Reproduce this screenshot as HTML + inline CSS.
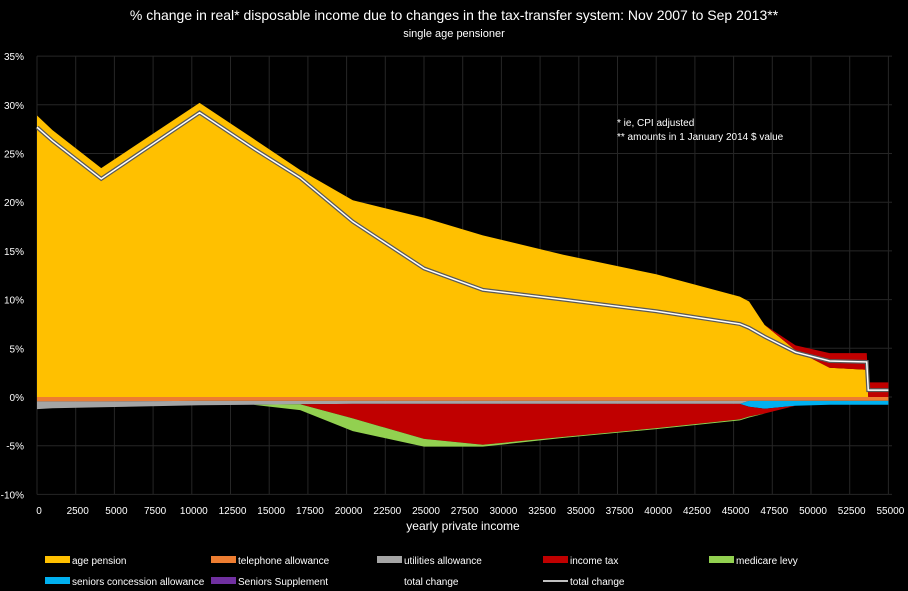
<!DOCTYPE html>
<html><head><meta charset="utf-8"><style>
body{margin:0;background:#000;width:908px;height:591px;overflow:hidden;font-family:"Liberation Sans",sans-serif;color:#fff}
</style></head><body>
<svg id="chart" width="908" height="591" style="position:absolute;left:0;top:0">
<text x="454" y="20" text-anchor="middle" font-size="14" fill="#fff">% change in real* disposable income due to changes in the tax-transfer system: Nov 2007 to Sep 2013**</text>
<text x="454" y="37" text-anchor="middle" font-size="11" fill="#fff">single age pensioner</text>
<g id="grid"></g><g id="areas"></g><g id="lines"></g><g id="axes"></g>
<text x="617" y="126" font-size="10" fill="#fff">* ie, CPI adjusted</text>
<text x="617" y="140" font-size="10" fill="#fff">** amounts in 1 January 2014 $ value</text>
<text x="463" y="530" text-anchor="middle" font-size="12" fill="#fff">yearly private income</text>
<g id="legend"></g>
</svg>
<script>
const incomes=[0,1000,4150,10500,14000,17000,20400,25000,28800,34000,40000,45400,46000,47000,49000,51200,53600,53700,55000];
const agePension=[28.9,27.4,23.5,30.2,26.5,23.3,20.2,18.4,16.6,14.6,12.6,10.3,9.8,7.4,4.8,3.0,2.8,0,0];
const incomeTaxPos=[0,0,0,0,0,0,0,0,0,0,0,0,0,0,0.5,1.5,1.7,1.5,1.5];
const telephone=[-0.45,-0.45,-0.45,-0.4,-0.4,-0.4,-0.4,-0.4,-0.4,-0.4,-0.4,-0.4,-0.4,-0.4,-0.4,-0.4,-0.4,-0.4,-0.4];
const utilities=[-0.8,-0.7,-0.6,-0.45,-0.4,-0.35,-0.3,-0.3,-0.3,-0.3,-0.3,-0.3,0,0,0,0,0,0,0];
const medicare=[0,0,0,0,0,-0.6,-1.3,-0.8,-0.2,-0.1,-0.1,-0.1,-0.1,0,0,0,0,0,0];
const incomeTaxNeg=[0,0,0,0,0,0,-1.5,-3.6,-4.2,-3.4,-2.5,-1.6,-1.0,-0.5,0,0,0,0,0];
const seniorsConcession=[0,0,0,0,0,0,0,0,0,0,0,0,-0.6,-0.8,-0.5,-0.4,-0.4,-0.4,-0.4];
const totalChange=[27.7,26.3,22.4,29.2,25.5,22.5,18.0,13.2,11.0,10.0,8.8,7.5,7.1,6.2,4.6,3.7,3.6,0.7,0.7];
const yTicks=[35,30,25,20,15,10,5,0,-5,-10];
const xTicks=[0,2500,5000,7500,10000,12500,15000,17500,20000,22500,25000,27500,30000,32500,35000,37500,40000,42500,45000,47500,50000,52500,55000];
const X=v=>37+v/2500*38.7;
const Y=v=>397-v*9.74;
const NS="http://www.w3.org/2000/svg";
function mk(parent,tag,attrs){const e=document.createElementNS(NS,tag);for(const k in attrs)e.setAttribute(k,attrs[k]);document.getElementById(parent).appendChild(e);return e;}
yTicks.forEach(t=>{
 const l=mk('grid','line',{x1:37,x2:892,y1:Y(t),y2:Y(t),stroke:'#262626','stroke-width':1});
 
 
 const tx=mk('axes','text',{x:24,y:Y(t)+4,'text-anchor':'end','font-size':10,fill:'#fff'});
 tx.textContent=t+'%';
 
 
});
xTicks.forEach(t=>{
 const l=mk('grid','line',{x1:X(t),x2:X(t),y1:Y(35),y2:Y(-10),stroke:'#262626','stroke-width':1});
 
 
 const tx=mk('axes','text',{x:X(t)+2,y:514,'text-anchor':'middle','font-size':10,fill:'#fff'});
 tx.textContent=t;
 
 
});
function band(lo,hi,color,name){
 let d='M'+incomes.map((v,i)=>X(v)+','+Y(hi[i])).join('L');
 for(let i=incomes.length-1;i>=0;i--)d+='L'+X(incomes[i])+','+Y(lo[i]);
 const p=mk('areas','path',{d:d+'Z',fill:color});
 
 
}
const zero=incomes.map(()=>0);
const add=(a,b)=>a.map((v,i)=>v+b[i]);
band(zero,agePension,'#ffc000','age-pension-area');
band(agePension,add(agePension,incomeTaxPos),'#c00000','income-tax-positive-area');
const c1=telephone, c2=add(c1,utilities), c3=add(c2,seniorsConcession), c4=add(c3,incomeTaxNeg), c5=add(c4,medicare);
band(zero,c1,'#ed7d31','telephone-allowance-area');
band(c1,c2,'#a5a5a5','utilities-allowance-area');
band(c2,c3,'#00b0f0','seniors-concession-area');
band(c3,c4,'#c00000','income-tax-negative-area');
band(c4,c5,'#92d050','medicare-levy-area');
const pts=incomes.map((v,i)=>X(v)+','+Y(totalChange[i])).join(' ');
const l1=mk('lines','polyline',{points:pts,fill:'none',stroke:'#595959','stroke-width':4});


const l2=mk('lines','polyline',{points:pts,fill:'none',stroke:'#fff','stroke-width':1.5});


const legendItems=[['age pension','#ffc000',45,560,'box'],['telephone allowance','#ed7d31',211,560,'box'],['utilities allowance','#a5a5a5',377,560,'box'],['income tax','#c00000',543,560,'box'],['medicare levy','#92d050',709,560,'box'],['seniors concession allowance','#00b0f0',45,581,'box'],['Seniors Supplement','#7030a0',211,581,'box'],['total change','none',377,581,'none'],['total change','#fff',543,581,'line']];
legendItems.forEach(it=>{
 if(it[4]==='box'){const r=mk('legend','rect',{x:it[2],y:it[3]-4,width:25,height:7,fill:it[1]});}
 if(it[4]==='line'){const r=mk('legend','line',{x1:it[2],x2:it[2]+25,y1:it[3],y2:it[3],stroke:'#fff','stroke-width':1.5});}
 const t=mk('legend','text',{x:it[2]+27,y:it[3]+4,'font-size':10,fill:'#fff'});
 t.textContent=it[0];
 
 
});
</script>
</body></html>
